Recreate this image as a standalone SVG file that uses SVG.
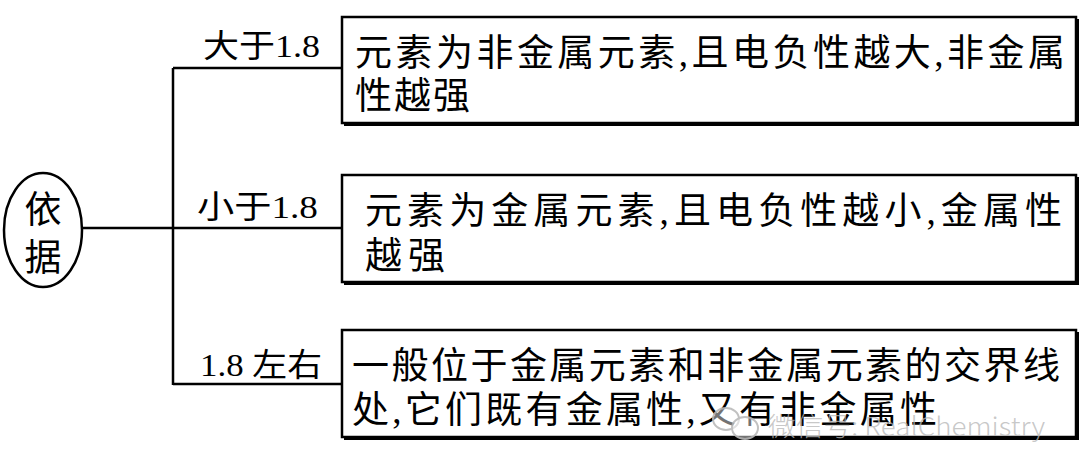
<svg xmlns="http://www.w3.org/2000/svg" width="1080" height="473" viewBox="0 0 1080 473">
<style>
.ln{stroke:#000;stroke-width:2.5;fill:none}
.box{fill:#fff;stroke:#000;stroke-width:2.5}
.sh{fill:#000}
.t{font-family:"Liberation Serif","Noto Sans CJK SC",serif;font-size:37px;fill:#000}
.lb{font-family:"Liberation Serif","Noto Sans CJK SC",serif;font-size:32px;fill:#000}
.wm{font-family:"Noto Sans CJK SC","Liberation Sans",sans-serif;font-size:26px;fill:#b8b8b8;fill-opacity:0.85;font-weight:300}
</style>
<rect width="1080" height="473" fill="#fff"/>
<g id="connectors">
<line class="ln" x1="82" y1="228" x2="342" y2="228"/>
<line class="ln" x1="173" y1="68" x2="173" y2="385"/>
<line class="ln" x1="173" y1="68" x2="342" y2="68"/>
<line class="ln" x1="173" y1="384" x2="342" y2="384"/>
</g>
<g id="root">
<ellipse cx="43" cy="230" rx="39" ry="57" fill="#fff" stroke="#000" stroke-width="2.5"/>
<text class="t" x="43" y="223" text-anchor="middle">依</text>
<text class="t" x="43" y="271" text-anchor="middle">据</text>
</g>
<g id="labels">
<text class="lb" x="203" y="57" textLength="117" lengthAdjust="spacingAndGlyphs">大于1.8</text>
<text class="lb" x="197" y="218" textLength="121" lengthAdjust="spacingAndGlyphs">小于1.8</text>
<text class="lb" x="200" y="376" textLength="122" lengthAdjust="spacingAndGlyphs">1.8 左右</text>
</g>
<g id="node1">
<rect class="sh" x="344" y="19" width="735" height="107"/>
<rect class="box" x="342" y="17" width="734" height="106"/>
<text class="t" x="355" y="66" textLength="710" lengthAdjust="spacing">元素为非金属元素,且电负性越大,非金属</text>
<text class="t" x="355" y="109" textLength="115" lengthAdjust="spacing">性越强</text>
</g>
<g id="node2">
<rect class="sh" x="344" y="177" width="735" height="108"/>
<rect class="box" x="342" y="175" width="734" height="107"/>
<text class="t" x="365" y="224" textLength="697" lengthAdjust="spacing">元素为金属元素,且电负性越小,金属性</text>
<text class="t" x="365" y="269" textLength="80" lengthAdjust="spacing">越强</text>
</g>
<g id="node3">
<rect class="sh" x="344" y="332" width="735" height="108"/>
<rect class="box" x="342" y="330" width="734" height="107"/>
<text class="t" x="352" y="379" textLength="708" lengthAdjust="spacing">一般位于金属元素和非金属元素的交界线</text>
<text class="t" x="352" y="423" textLength="585" lengthAdjust="spacing">处,它们既有金属性,又有非金属性</text>
</g>
<g id="watermark" opacity="0.9">
<ellipse cx="726" cy="419" rx="13" ry="11" fill="#fff" fill-opacity="0.5" stroke="#bbb" stroke-width="2"/>
<ellipse cx="745" cy="428" rx="13" ry="11" fill="#fff" fill-opacity="0.5" stroke="#bbb" stroke-width="2"/>
<text class="wm" x="768" y="436" textLength="277" lengthAdjust="spacingAndGlyphs">微信号: RealChemistry</text>
</g>
</svg>
